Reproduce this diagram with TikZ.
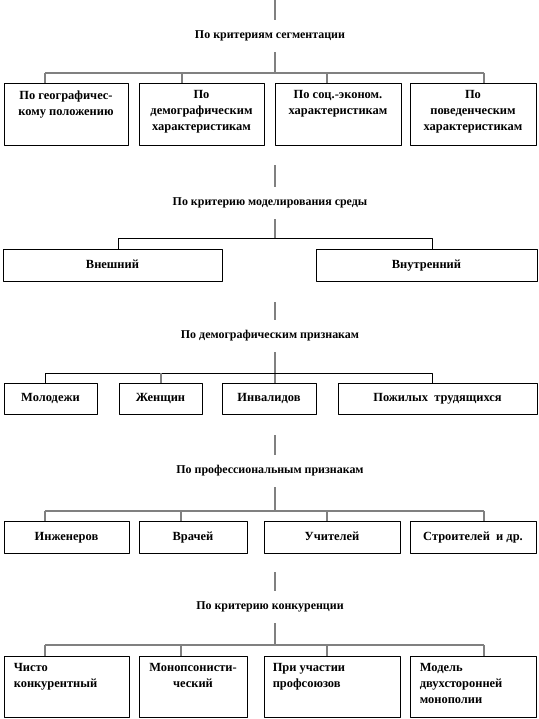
\documentclass[tikz,border=0pt]{standalone}
\usepackage{fontspec}
\setmainfont{Liberation Serif}
\usetikzlibrary{positioning}
\begin{document}
\begin{tikzpicture}[x=1bp,y=-1bp,line join=round,line cap=butt]
	\tikzset{box/.style={draw,line width=0.8bp,inner sep=0pt,text height=9bp,text depth=3bp,font=\bfseries\fontsize{12.5}{14}\selectfont},
		txt/.style={inner sep=0pt,align=center,font=\bfseries\fontsize{12.5}{16}\selectfont},
		ttl/.style={inner sep=0pt,minimum height=32bp,font=\bfseries\fontsize{12}{14}\selectfont},
		conn/.style={draw=gray,line width=1.2bp},
		bar/.style={draw=black,line width=0.8bp}}
	\useasboundingbox (0,0) rectangle (539,719);
	% segmentation
	\node[ttl] (t1) at (270,36) {По критериям сегментации};
	\coordinate (u1) at (275,0);
	\coordinate (h1) at (275,73);
	\node[box,minimum width=124bp,minimum height=62bp] (b11) at (66,114) {};
	\node[box,minimum width=125bp,minimum height=62bp] (b12) at (201.5,114) {};
	\node[box,minimum width=126bp,minimum height=62bp] (b13) at (338,114) {};
	\node[box,minimum width=126bp,minimum height=62bp] (b14) at (473,114) {};
	\node[txt,below=8bp of b11.north] (l11) {По географичес-\\кому положению};
	\node[txt,below=8bp of b12.north] (l12) {По\\демографическим\\характеристикам};
	\node[txt,below=8bp of b13.north] (l13) {По соц.-эконом.\\характеристикам};
	\node[txt,below=8bp of b14.north] (l14) {По\\поведенческим\\характеристикам};
	\coordinate (d11) at (45,73);
	\coordinate (d12) at (182,73);
	\coordinate (d13) at (327,73);
	\coordinate (d14) at (484,73);
	\draw[conn] (u1) -- (u1 |- t1.north) (h1 |- t1.south) -- (h1);
	\draw[conn] (d11) -- (d14);
	\draw[conn] (d11) -- (d11 |- b11.north) (d12) -- (d12 |- b12.north)
		(d13) -- (d13 |- b13.north) (d14) -- (d14 |- b14.north);
	% environment
	\node[ttl] (t2) at (270,203) {По критерию моделирования среды};
	\coordinate (u2) at (275,165);
	\coordinate (h2) at (275,238);
	\node[box,minimum width=219bp,minimum height=32bp] (b21) at (112.5,265) {Внешний};
	\node[box,minimum width=221bp,minimum height=32bp] (b22) at (426.5,265) {Внутренний};
	\coordinate (d21) at (118,238);
	\coordinate (d22) at (432,238);
	\draw[conn] (u2) -- (u2 |- t2.north) (h2 |- t2.south) -- (h2);
	\draw[bar] (d21 |- b21.north) -- (d21) -- (d22) -- (d22 |- b22.north);
	% demography
	\node[ttl] (t3) at (270,336) {По демографическим признакам};
	\coordinate (u3) at (275,302);
	\coordinate (h3) at (275,373);
	\node[box,minimum width=93bp,minimum height=31bp] (b31) at (50.5,398.5) {Молодежи};
	\node[box,minimum width=83bp,minimum height=31bp] (b32) at (160.5,398.5) {Женщин};
	\node[box,minimum width=94bp,minimum height=31bp] (b33) at (269,398.5) {Инвалидов};
	\node[box,minimum width=199bp,minimum height=31bp] (b34) at (437.5,398.5) {Пожилых\ \ трудящихся};
	\coordinate (d31) at (45,373);
	\coordinate (d32) at (161,373);
	\coordinate (d34) at (432,373);
	\draw[conn] (u3) -- (u3 |- t3.north) (h3 |- t3.south) -- (h3 |- b33.north);
	\draw[bar] (d31 |- b31.north) -- (d31) -- (d34) -- (d34 |- b34.north);
	\draw[conn] (d32) -- (d32 |- b32.north);
	% profession
	\node[ttl] (t4) at (270,471) {По профессиональным признакам};
	\coordinate (u4) at (275,435);
	\coordinate (h4) at (275,511);
	\node[box,minimum width=125bp,minimum height=32bp] (b41) at (66.5,537) {Инженеров};
	\node[box,minimum width=108bp,minimum height=32bp] (b42) at (193,537) {Врачей};
	\node[box,minimum width=136bp,minimum height=32bp] (b43) at (332,537) {Учителей};
	\node[box,minimum width=126bp,minimum height=32bp] (b44) at (473,537) {Строителей\ \ и др.};
	\coordinate (d41) at (45,511);
	\coordinate (d42) at (181,511);
	\coordinate (d43) at (327,511);
	\coordinate (d44) at (484,511);
	\draw[conn] (u4) -- (u4 |- t4.north) (h4 |- t4.south) -- (h4);
	\draw[conn] (d41) -- (d44);
	\draw[conn] (d41) -- (d41 |- b41.north) (d42) -- (d42 |- b42.north)
		(d43) -- (d43 |- b43.north) (d44) -- (d44 |- b44.north);
	% competition
	\node[ttl] (t5) at (270,607) {По критерию конкуренции};
	\coordinate (u5) at (275,572);
	\coordinate (h5) at (275,645);
	\node[box,minimum width=125bp,minimum height=61bp] (b51) at (66.5,686.5) {};
	\node[box,minimum width=108bp,minimum height=61bp] (b52) at (193,686.5) {};
	\node[box,minimum width=136bp,minimum height=61bp] (b53) at (332,686.5) {};
	\node[box,minimum width=126bp,minimum height=61bp] (b54) at (473,686.5) {};
	\node[txt,align=left,below right=8bp and 10bp of b51.north west] (l51) {Чисто\\конкурентный};
	\node[txt,below=8bp of b52.north] (l52) {Монопсонисти-\\ческий};
	\node[txt,align=left,below right=8bp and 9bp of b53.north west] (l53) {При участии\\профсоюзов};
	\node[txt,align=left,below right=8bp and 10bp of b54.north west] (l54) {Модель\\двухсторонней\\монополии};
	\coordinate (d51) at (45,645);
	\coordinate (d52) at (181,645);
	\coordinate (d53) at (327,645);
	\coordinate (d54) at (484,645);
	\draw[conn] (u5) -- (u5 |- t5.north) (h5 |- t5.south) -- (h5);
	\draw[conn] (d51) -- (d54);
	\draw[conn] (d51) -- (d51 |- b51.north) (d52) -- (d52 |- b52.north)
		(d53) -- (d53 |- b53.north) (d54) -- (d54 |- b54.north);
\end{tikzpicture}
\end{document}
